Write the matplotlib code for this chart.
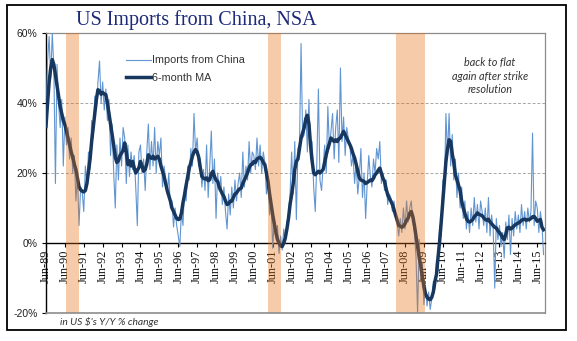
import matplotlib
matplotlib.use("Agg")
import matplotlib.pyplot as plt
from matplotlib.patches import Rectangle
import numpy as np

# Monthly series, Jun-1989 .. Oct-2015 (Y/Y % change, US$)
start_year = 1989
start_month = 6

imports_china = [
    34, 52, 59, 47, 60, 50, 17, 51, 40, 33, 41, 22,
    36, 28, 33, 24, 30, 20, 25, 12, 19, 5, 16, 14.5,
    9, 22, 17, 26, 21, 35, 30, 42, 38, 46, 52, 40,
    46, 38, 44, 35, 41, 25, 34, 20, 10, 28, 18, 30,
    22, 33, 30, 17, 28, 19, 26, 21, 25, 16, 5, 26,
    28, 20, 24, 15, 26, 34, 21, 29, 22, 33, 20, 29,
    25, 30, 16, 22, 18, 14, 20, 10, 12, 4.6, 10, 5,
    2, -1, 9, 5, 16, 12, 22, 18, 27, 22, 37, 26,
    30, 22, 24, 16, 21, 15, 28, 13, 22, 32, 17, 24,
    7, 20, 15, 19, 11, 16, 9, 4, 14, 8, 16, 10,
    18, 12, 17, 20, 13, 26, 16, 22, 18, 29, 20, 26,
    25, 21, 30, 22, 28, 20, 26, 23, 14, 19, 8, 12,
    -1.5, 7, 2, 5, -3, 2, -2, 4, 0, 6, 8, 14,
    26, 14, 29, 6.7, 27, 28, 57, 30, 31, 38, 26, 41,
    24, 29, 16, 9, 23, 44, 18, 15, 22, 28, 20, 39,
    27, 32, 37, 24, 33, 38, 23, 50, 29, 36, 25, 33,
    30, 28, 22, 25, 17, 23, 14, 19, 27, 13, 20, 7,
    17, 25, 19, 16, 24, 20, 27, 24, 29, 17, 20, 15,
    18, 11, 14, 13, 9, 12, 8, 6, 2, 7, 3, 10,
    4, 12, 6, 10, 12, 6, 3, -4, -20, 1, -10, -6,
    -17.6, -12, -18, -14, -19, -16, -11, -13, -5, -8, 5, 2,
    18, 15, 37, 25, 37, 22, 31, 18, 24, 13, 20, 10,
    16, 7, 12, 4, 9, 3, 10, 5, 13, 6, 11, 4,
    12, 9, 5, 10, 3, 13, 2, 8, 4, -12.9, 7, 1,
    5, -1, 3, -4.3, 6, 1, 8, -3.3, 7, 2, 9, 4,
    8, 3, 11, 5, 9, 4, 10, 6, 9, 31.4, 5, 12,
    10, 3, 9, 5, -3.3,
]

ma_6m = [
    33.3, 40, 46, 50, 52.4, 51, 48, 45, 42, 39, 37, 35,
    33.8, 32, 30, 28, 26, 24.5, 22.5, 21, 18.5, 16, 15.2, 14.8,
    14.6, 15, 17, 20.5, 24, 29, 33, 37, 41, 43.8, 43.5, 42.5,
    43, 42.6, 42.4, 40, 37, 34, 31, 28, 24.5, 23, 23.5, 25,
    25.7, 26.5, 28.6, 26, 22.4, 23.5, 22, 23.3, 21.5, 20, 20.8, 21.5,
    23.3, 22, 20.5, 21, 22.5, 25.2, 24.5, 24.2, 24.8, 24, 24.3, 24.8,
    24, 22, 20.5, 19, 17, 15, 13.5, 12, 10, 9, 8, 7,
    6.7, 6.9, 8.5, 11.5, 13.8, 16.5, 19, 21.4, 23, 24.8, 26, 26.7,
    26, 24.5, 21.5, 19, 18.5, 18.3, 18.6, 17.8, 18.1, 19.8, 20.5, 19,
    18, 17.6, 16, 15, 14, 13.3, 12, 11, 11.2, 11.9, 12, 13,
    14, 14.3, 15, 15.5, 15.7, 17, 18, 19, 20, 21.5, 22.4, 22.5,
    23.3, 23, 24, 24.3, 24.5, 24, 23, 22.4, 20, 17.6, 14, 11,
    8, 5.5, 3, 1, 0, -0.8, -1, 0, 1.5, 4, 7, 11,
    13.8, 17, 21, 23.3, 24, 27, 30, 31.5, 33, 35.5, 36.5, 34,
    28, 23.5, 20, 19.5, 20, 20.5, 20, 20.5, 21, 23, 25.2, 27,
    28.5, 30, 29.5, 29, 29.5, 29, 29.8, 30, 31, 31.9, 31, 30,
    29, 28.1, 27, 25.5, 24.3, 22.5, 20.5, 18.6, 18, 17.8, 17.6, 17,
    17.3, 17.6, 18, 17.8, 18.5, 19.5, 20, 20.8, 21.4, 20, 18.5, 17.6,
    15.5, 13.8, 12.8, 12, 11, 9.5, 8, 6.5, 5, 4.8, 4.5, 4.8,
    5.5, 6.5, 7.1, 8.5, 9, 7.5, 5, 2, -1, -4, -6.5, -9.5,
    -12.5, -14.5, -15.5, -16, -16.2, -15.5, -14, -11, -9, -4, 0.5, 6,
    11.9, 17.5, 23.3, 27, 29.5, 29, 25.5, 23, 19.5, 18, 16.5, 15,
    12, 10, 8.5, 7, 6.2, 6, 6.3, 6.7, 7.5, 8, 8.6, 8.2,
    8, 7.8, 7.2, 6.7, 6.5, 6.8, 6, 5.5, 5, 4.5, 4.3, 3.5,
    3, 2.4, 1.5, 1, 2.5, 4.3, 4.5, 4, 4.3, 4.8, 5.2, 5.5,
    5.7, 6, 6.5, 6.7, 6.8, 6.5, 6.7, 6.7, 7, 7.5, 7.6, 7,
    6.2, 6.5, 6.7, 4.5, 3.8,
]

# Recessions (start, end) as decimal years
recessions = [(1990.5, 1991.17), (2001.17, 2001.87), (2007.92, 2009.45)]

tick_years = list(range(1989, 2016))
tick_labels = [f"Jun-{y % 100:02d}" for y in tick_years]
y_ticks = [-20, 0, 20, 40, 60]
y_tick_labels = ["-20%", "0%", "20%", "40%", "60%"]

t0 = start_year + (start_month - 1) / 12
t = t0 + np.arange(len(imports_china)) / 12

fig = plt.figure(figsize=(5.77, 3.41), dpi=100)
ax = fig.add_axes([0.0797, 0.0821, 0.8648, 0.8211])

# axis lines first: moving a spine resets the tick labels
ax.spines["bottom"].set_position(("data", 0))
ax.spines["bottom"].set_color("black")
ax.spines["bottom"].set_linewidth(1.0)
ax.spines["left"].set_color("black")
ax.spines["left"].set_linewidth(1.0)
for s in ("top", "right"):
    ax.spines[s].set_color("#8C8C8C")
    ax.spines[s].set_linewidth(0.9)

ax.plot(t, imports_china, color="#6195D2", lw=0.8, zorder=3,
        label="Imports from China")
ax.plot(t, ma_6m, color="#17375E", lw=2.5, zorder=4,
        solid_joinstyle="round", label="6-month MA")

for a, b in recessions:
    ax.axvspan(a, b, color="#E36C0A", alpha=0.35, lw=0, zorder=5)

ax.set_xlim(t0, t0 + 316.9 / 12)
ax.set_ylim(-20, 60)

for g in (20, 40):
    ax.axhline(g, color="#A6A6A6", lw=0.7, ls=(0, (3, 2)), zorder=1)
# border at the bottom of the plot area
ax.axhline(-20, color="#8C8C8C", lw=1.2, zorder=6, clip_on=False)

ax.set_yticks(y_ticks)
ax.set_yticklabels(y_tick_labels, family="Liberation Sans", fontsize=7.5,
                   color="#222222")
ax.set_xticks([y + 5 / 12 for y in tick_years])
ax.set_xticklabels(tick_labels, rotation=90, family="Liberation Serif",
                   fontsize=8.8, color="#111111")

ax.tick_params(axis="x", direction="out", length=3, width=0.8, pad=1.5)
ax.tick_params(axis="y", direction="out", length=3, width=0.8, pad=3)

leg = ax.legend(loc="upper left", bbox_to_anchor=(0.16, 0.92),
                frameon=False, handlelength=2.3, handletextpad=0.1,
                labelspacing=0.7, borderpad=0, borderaxespad=0,
                prop={"family": "Liberation Sans", "size": 7.8})
for txt in leg.get_texts():
    txt.set_color("#333333")

fig.text(196 / 577, 1 - 20 / 341, "US Imports from China, NSA",
         ha="center", va="center", family="Liberation Serif", fontsize=14.5,
         color="#1C2A78")

fig.text(490 / 577, 1 - 76 / 341, "back to flat\nagain after strike\nresolution",
         ha="center", va="center", family="Lato", style="italic",
         fontsize=7.8, color="#333333", linespacing=1.3)

fig.text(60 / 577, 1 - 322 / 341, "in US $'s Y/Y % change",
         ha="left", va="center", family="Lato", style="italic",
         fontsize=7.4, color="#333333")

fig.patches.append(Rectangle((7 / 577, 1 - 330 / 341), 559 / 577, 325 / 341,
                             transform=fig.transFigure, fill=False,
                             edgecolor="black", lw=1.3))

fig.savefig("out.png", dpi=100)
